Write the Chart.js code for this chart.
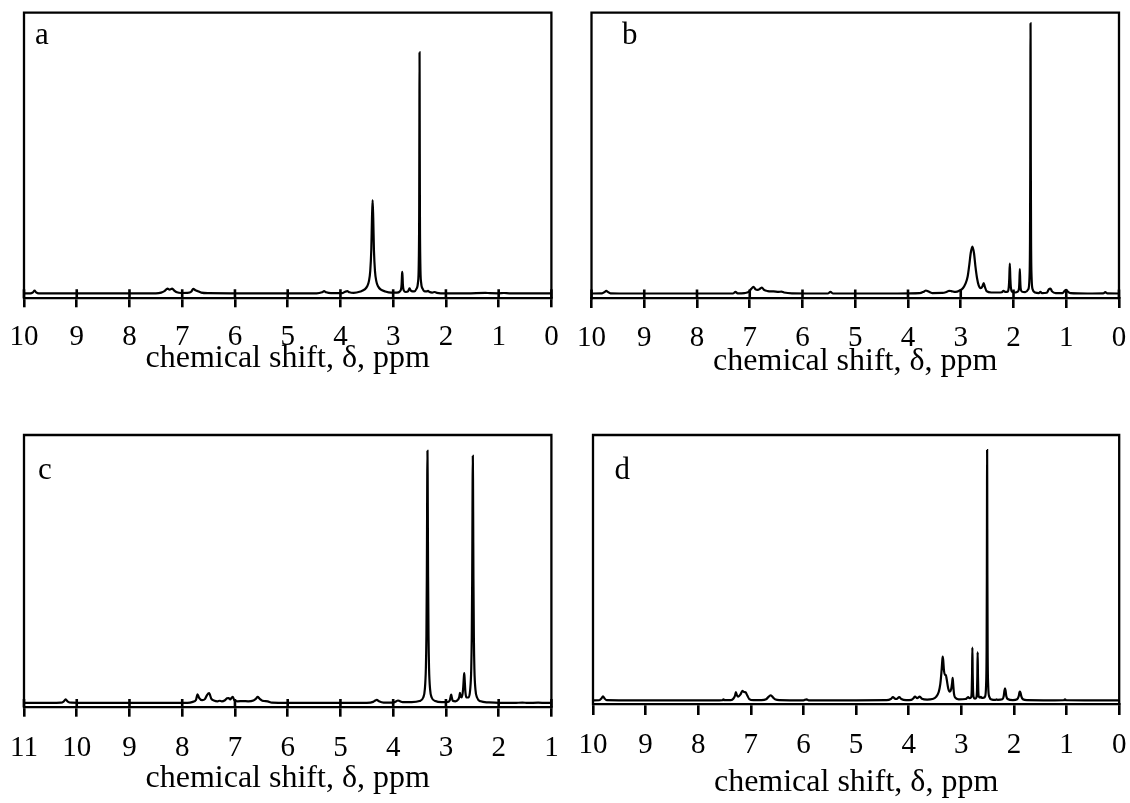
<!DOCTYPE html>
<html>
<head>
<meta charset="utf-8">
<title>1H NMR spectra a-d</title>
<script src="https://cdn.jsdelivr.net/npm/chart.js@4.4.1/dist/chart.umd.min.js"></script>
<style>
  html, body { margin: 0; padding: 0; background: #fff; }
  body { width: 1130px; height: 803px; position: relative; overflow: hidden; }
  canvas { position: absolute; }
</style>
</head>
<body>
<canvas id="panelA"></canvas>
<canvas id="panelB"></canvas>
<canvas id="panelC"></canvas>
<canvas id="panelD"></canvas>
<script>
/* ── Spectra: chemical shift (ppm) and intensity (% of frame height) ── */
const ppmA = [10.00, 9.88, 9.83, 9.80, 9.77, 9.72, 9.30, 8.60, 8.00, 7.50, 7.40, 7.33, 7.28, 7.24, 7.19, 7.15, 7.10, 7.02,
  6.90, 6.83, 6.79, 6.75, 6.70, 6.64, 6.50, 6.00, 5.20, 4.45, 4.35, 4.31, 4.27, 4.18, 3.97, 3.91, 3.87, 3.83, 3.75,
  3.62, 3.54, 3.49, 3.46, 3.435, 3.415, 3.402, 3.39, 3.378, 3.365, 3.345, 3.32, 3.29, 3.24, 3.15, 3.04, 2.93, 2.875,
  2.85, 2.84, 2.833, 2.828, 2.822, 2.815, 2.80, 2.76, 2.72, 2.70, 2.69, 2.675, 2.65, 2.60, 2.56, 2.53, 2.515, 2.507,
  2.503, 2.500, 2.497, 2.493, 2.485, 2.47, 2.44, 2.41, 2.37, 2.34, 2.31, 2.26, 2.21, 2.17, 2.10, 1.60, 1.25, 1.17,
  1.00, 0.90, 0.80, 0.00];
const intA = [1.75, 1.75, 2.1, 2.7, 2.1, 1.75, 1.7, 1.75, 1.7, 1.75, 2.0, 2.6, 3.4, 3.0, 3.4, 2.7, 2.1, 1.85,
  1.9, 2.3, 3.3, 2.8, 2.5, 2.0, 1.8, 1.75, 1.7, 1.75, 2.1, 2.5, 2.1, 1.8, 1.8, 2.3, 2.5, 2.1, 1.9,
  2.4, 3.1, 4.3, 6.0, 9.5, 17, 28, 34.4, 28, 17, 9.5, 6.0, 4.3, 3.1, 2.4, 2.0, 2.0, 2.4,
  3.3, 5.0, 8.0, 9.3, 7.5, 4.5, 2.8, 2.2, 2.4, 3.2, 3.5, 3.0, 2.5, 2.4, 3.3, 5.5, 12, 30,
  62, 86.1, 62, 30, 12, 5.5, 3.3, 2.5, 2.4, 2.6, 2.2, 2.0, 2.2, 1.9, 1.75, 1.75, 1.9, 1.8,
  1.75, 1.85, 1.75, 1.75];

const ppmB = [10.00, 9.80, 9.75, 9.72, 9.69, 9.64, 9.40, 8.50, 7.60, 7.32, 7.27, 7.23, 7.10, 7.02, 6.97, 6.93, 6.89,
  6.85, 6.80, 6.77, 6.73, 6.66, 6.55, 6.45, 6.40, 6.35, 6.20, 5.80, 5.52, 5.47, 5.42, 4.80, 4.20, 3.78, 3.70, 3.66,
  3.62, 3.54, 3.35, 3.27, 3.22, 3.18, 3.10, 3.02, 2.96, 2.91, 2.87, 2.84, 2.81, 2.78, 2.75, 2.72, 2.69, 2.66, 2.62,
  2.59, 2.565, 2.545, 2.51, 2.42, 2.30, 2.22, 2.19, 2.16, 2.11, 2.09, 2.08, 2.07, 2.06, 2.05, 2.03, 1.97, 1.92,
  1.896, 1.888, 1.88, 1.872, 1.864, 1.84, 1.78, 1.72, 1.697, 1.687, 1.682, 1.679, 1.677, 1.675, 1.672, 1.667, 1.657,
  1.637, 1.59, 1.52, 1.49, 1.46, 1.37, 1.33, 1.30, 1.27, 1.20, 1.07, 1.03, 1.00, 0.97, 0.92, 0.60, 0.30, 0.26, 0.22,
  0.00];
const intB = [1.75, 1.8, 2.3, 2.7, 2.3, 1.8, 1.75, 1.75, 1.75, 1.75, 2.3, 1.8, 1.9, 2.3, 3.4, 4.1, 3.2,
  3.0, 3.5, 3.85, 3.0, 2.6, 2.5, 2.3, 2.4, 2.1, 1.8, 1.75, 1.75, 2.3, 1.75, 1.75, 1.75, 1.85, 2.4, 2.8,
  2.5, 1.9, 1.95, 2.3, 2.7, 2.6, 2.3, 2.8, 3.6, 5.2, 7.6, 11.5, 16.0, 18.2, 16.0, 11.0, 7.0, 4.6, 3.6,
  4.2, 5.4, 4.2, 2.6, 2.1, 2.1, 2.2, 2.7, 2.3, 2.4, 3.9, 7.0, 12.2, 7.0, 3.9, 2.4, 2.1, 2.4,
  3.5, 6.0, 10.3, 6.0, 3.5, 2.4, 2.2, 3.2, 7.3, 20.7, 49, 83, 96.3, 83, 49, 20.7, 7.3,
  3.2, 2.1, 1.9, 2.3, 1.9, 2.0, 3.2, 3.5, 2.5, 1.9, 1.9, 2.7, 3.05, 2.4, 1.85, 1.75, 1.8, 2.2, 1.8,
  1.75];

const ppmC = [11.00, 10.50, 10.30, 10.25, 10.21, 10.17, 10.10, 9.80, 9.00, 8.20, 7.90, 7.80, 7.74, 7.71, 7.68, 7.62,
  7.57, 7.53, 7.49, 7.45, 7.40, 7.33, 7.29, 7.25, 7.19, 7.15, 7.12, 7.09, 7.06, 7.04, 7.01, 6.95, 6.85, 6.75, 6.65,
  6.60, 6.57, 6.53, 6.48, 6.43, 6.38, 6.30, 6.00, 5.20, 4.50, 4.38, 4.34, 4.31, 4.27, 4.18, 4.00, 3.94, 3.91, 3.88,
  3.82, 3.65, 3.50, 3.43, 3.40, 3.38, 3.37, 3.362, 3.358, 3.354, 3.350, 3.346, 3.342, 3.338, 3.330, 3.320, 3.300,
  3.270, 3.200, 3.08, 2.96, 2.925, 2.91, 2.90, 2.89, 2.87, 2.82, 2.77, 2.745, 2.735, 2.725, 2.70, 2.675, 2.66, 2.652,
  2.644, 2.63, 2.61, 2.57, 2.54, 2.52, 2.51, 2.502, 2.498, 2.494, 2.490, 2.486, 2.482, 2.478, 2.47, 2.46, 2.44,
  2.41, 2.34, 2.20, 2.00, 1.70, 1.55, 1.45, 1.25, 1.10, 1.00];
const intC = [1.6, 1.6, 1.7, 2.1, 2.9, 2.1, 1.7, 1.6, 1.6, 1.6, 1.65, 2.0, 2.7, 4.8, 3.5, 2.6,
  3.0, 4.5, 5.2, 3.2, 2.5, 2.2, 2.4, 2.2, 2.6, 3.3, 3.4, 2.9, 3.6, 3.8, 2.5, 2.2, 2.3, 2.2, 2.5,
  3.2, 3.8, 3.1, 2.4, 2.3, 2.2, 1.7, 1.6, 1.6, 1.65, 2.0, 2.5, 2.7, 2.2, 1.7, 1.7, 2.2, 2.5, 2.3,
  1.9, 1.9, 2.3, 3.6, 6.6, 14.4, 26.1, 47.9, 65.5, 85, 94.2, 85, 65.5, 47.9, 26.1, 14.4, 6.6,
  3.6, 2.3, 1.9, 2.0, 2.6, 4.0, 4.7, 3.8, 2.4, 2.2, 2.8, 4.0, 5.3, 4.4, 3.6, 6.5, 11, 12.6,
  10, 5.5, 3.6, 3.6, 6.5, 14.1, 25.6, 47, 64.2, 83.2, 92.3, 83.2, 64.2, 47, 25.6, 14.1, 6.5,
  3.6, 2.2, 1.8, 1.6, 1.6, 1.75, 1.6, 1.7, 1.6, 1.6];

const ppmD = [10.00, 9.88, 9.84, 9.81, 9.78, 9.74, 9.40, 8.50, 7.60, 7.54, 7.52, 7.50, 7.38, 7.33, 7.30, 7.285, 7.265,
  7.24, 7.20, 7.16, 7.13, 7.10, 7.07, 7.03, 6.95, 6.80, 6.71, 6.66, 6.62, 6.58, 6.53, 6.45, 6.00, 5.94, 5.90, 5.00,
  4.42, 4.34, 4.30, 4.26, 4.23, 4.18, 4.14, 4.05, 3.95, 3.91, 3.88, 3.84, 3.79, 3.75, 3.65, 3.55, 3.48, 3.43, 3.40,
  3.38, 3.365, 3.355, 3.345, 3.33, 3.31, 3.295, 3.28, 3.25, 3.22, 3.195, 3.175, 3.165, 3.155, 3.14, 3.12, 3.05,
  2.92, 2.89, 2.87, 2.85, 2.815, 2.802, 2.796, 2.790, 2.784, 2.778, 2.765, 2.74, 2.715, 2.702, 2.696, 2.690, 2.684,
  2.678, 2.665, 2.645, 2.63, 2.61, 2.57, 2.55, 2.53, 2.52, 2.515, 2.512, 2.510, 2.508, 2.505, 2.50, 2.49, 2.47, 2.42,
  2.35, 2.33, 2.31, 2.22, 2.195, 2.18, 2.17, 2.16, 2.145, 2.12, 2.02, 1.94, 1.91, 1.895, 1.885, 1.875, 1.86, 1.83,
  1.75, 1.30, 1.05, 1.03, 1.01, 0.50, 0.00];
const intD = [1.5, 1.55, 2.2, 3.0, 2.2, 1.55, 1.5, 1.5, 1.5, 1.55, 1.9, 1.55, 1.6, 2.2, 3.3, 4.6, 3.4,
  2.9, 3.6, 5.0, 4.6, 4.5, 3.4, 2.0, 1.6, 1.6, 1.9, 2.9, 3.4, 2.6, 1.8, 1.6, 1.5, 1.9, 1.5, 1.5,
  1.55, 2.0, 2.7, 2.1, 2.0, 2.7, 2.0, 1.6, 1.7, 2.3, 2.9, 2.3, 2.9, 2.1, 1.8, 2.0, 2.8, 4.6, 7.5,
  11.5, 15.5, 17.7, 16.5, 12.5, 11, 10.9, 9.5, 6.0, 4.7, 5.5, 8.0, 9.9, 7.5, 4.0, 2.6, 1.9,
  2.0, 2.4, 2.7, 2.3, 2.6, 5.4, 11.3, 21.1, 11.3, 5.4, 2.6, 2.1, 2.5, 5.1, 10.5, 19.4, 10.5,
  5.1, 2.8, 2.5, 2.8, 2.4, 2.5, 2.9, 7.0, 20.1, 48, 81.5, 94.4, 81.5, 48, 20.1, 7.0, 2.9, 1.8,
  1.7, 1.9, 1.7, 1.9, 3.0, 5.2, 6.0, 5.2, 3.0, 2.0, 1.6, 1.9, 3.0, 4.5, 4.75, 4.3, 3.0, 1.9,
  1.55, 1.5, 1.55, 1.9, 1.55, 1.5, 1.5];

/* ── Axis ranges (ppm, drawn high → low) ── */
const rangeA = [0, 10];
const rangeB = [0, 10];
const rangeC = [1, 11];
const rangeD = [0, 10];

const AXIS_TITLE = 'chemical shift, δ, ppm';
const SERIF = '"Liberation Serif", "Times New Roman", serif';

/* ── Frame geometry on the page (px) ── */
const FRAME_A = { left: 24,  right: 551.4, top: 12.7, axis: 298.3, up: 9, down: 9,    labelOff: 39.2, titleOff: 60.5, tagX: 35,  tagY: 44 };
const FRAME_B = { left: 591.5, right: 1119, top: 12.7, axis: 298.5, up: 9, down: 9.5, labelOff: 39.8, titleOff: 63.0, tagX: 622, tagY: 44 };
const FRAME_C = { left: 24,  right: 551.4, top: 435, axis: 707.3, up: 8.3, down: 9.4, labelOff: 41.2, titleOff: 71.5, tagX: 38,  tagY: 479 };
const FRAME_D = { left: 593, right: 1119.2, top: 435, axis: 704.4, up: 0, down: 10.6,  labelOff: 41.0, titleOff: 78.0, tagX: 614.5, tagY: 479 };

/* ── Box, inner tick halves and panel letter ── */
const framePlugin = {
  id: 'frame',
  afterDraw(chart, args, opts) {
    const { ctx, chartArea: ca } = chart;
    const xs = chart.scales.x;
    ctx.save();
    ctx.strokeStyle = '#000';
    ctx.lineWidth = 2.3;
    ctx.lineCap = 'square';
    ctx.beginPath();
    ctx.moveTo(ca.left, ca.bottom);
    ctx.lineTo(ca.left, ca.top);
    ctx.lineTo(ca.right, ca.top);
    ctx.lineTo(ca.right, ca.bottom);
    ctx.stroke();

    if (opts.up > 0) {
      ctx.lineWidth = 2.6;
      ctx.lineCap = 'butt';
      ctx.beginPath();
      xs.ticks.forEach(t => {
        const px = xs.getPixelForValue(t.value);
        ctx.moveTo(px, ca.bottom);
        ctx.lineTo(px, ca.bottom - opts.up);
      });
      ctx.stroke();
    }

    ctx.fillStyle = '#000';
    ctx.font = '31px ' + SERIF;
    ctx.textBaseline = 'alphabetic';
    ctx.textAlign = 'left';
    ctx.fillText(opts.tag, opts.tagX, opts.tagY);
    ctx.restore();
  }
};

function makePanel(id, tag, ppm, inten, range, f) {
  const canvas = document.getElementById(id);
  const padX = 34, padTop = 10;
  const scaleH = f.titleOff + 32 * 1.2 / 2;
  const cx = Math.floor(f.left - padX);
  const cy = Math.floor(f.top - padTop);
  const w = Math.ceil(f.right + padX) - cx;
  const h = Math.ceil(f.axis + scaleH + 6) - cy;

  canvas.width = w;
  canvas.height = h;
  canvas.style.left = cx + 'px';
  canvas.style.top = cy + 'px';
  canvas.style.width = w + 'px';
  canvas.style.height = h + 'px';

  return new Chart(canvas.getContext('2d'), {
    type: 'line',
    data: {
      datasets: [{
        data: ppm.map((x, i) => ({ x, y: inten[i] })),
        borderColor: '#000',
        borderWidth: 2.2,
        pointRadius: 0,
        fill: false,
        cubicInterpolationMode: 'monotone'
      }]
    },
    options: {
      responsive: false,
      animation: false,
      devicePixelRatio: 1,
      layout: {
        padding: {
          left: f.left - cx,
          right: w - (f.right - cx),
          top: f.top - cy,
          bottom: h - (f.axis - cy) - scaleH
        }
      },
      plugins: {
        legend: { display: false },
        tooltip: { enabled: false },
        frame: { tag, tagX: f.tagX - cx, tagY: f.tagY - cy, up: f.up }
      },
      scales: {
        x: {
          type: 'linear',
          reverse: true,
          min: range[0],
          max: range[1],
          afterFit: s => { s.height = scaleH; },
          border: { display: true, color: '#000', width: 2.3 },
          grid: { drawOnChartArea: false, drawTicks: true, tickLength: f.down, color: '#000', lineWidth: 2.6 },
          ticks: {
            stepSize: 1,
            autoSkip: false,
            maxRotation: 0,
            padding: f.labelOff - f.down - 29 * 1.2 / 2,
            color: '#000',
            font: { family: SERIF, size: 29 },
            callback: v => String(v)
          },
          title: {
            display: true,
            text: AXIS_TITLE,
            color: '#000',
            font: { family: SERIF, size: 32 },
            padding: { top: 0, bottom: 0 }
          }
        },
        y: { display: false, min: 0, max: 100 }
      }
    },
    plugins: [framePlugin]
  });
}

makePanel('panelA', 'a', ppmA, intA, rangeA, FRAME_A);
makePanel('panelB', 'b', ppmB, intB, rangeB, FRAME_B);
makePanel('panelC', 'c', ppmC, intC, rangeC, FRAME_C);
makePanel('panelD', 'd', ppmD, intD, rangeD, FRAME_D);
</script>
</body>
</html>
